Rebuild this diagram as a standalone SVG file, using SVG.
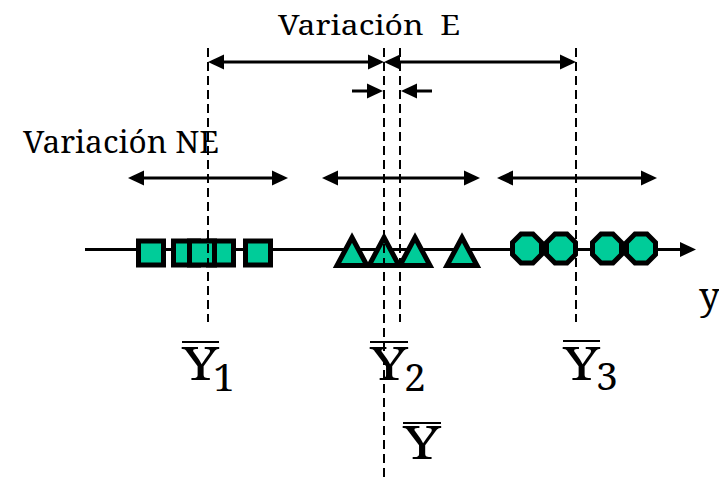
<svg xmlns="http://www.w3.org/2000/svg" width="719" height="478" viewBox="0 0 719 478">
<style>
text{font-family:"Noto Serif","DejaVu Serif","Liberation Serif",serif;fill:#000}
.ln{stroke:#000;stroke-width:3;fill:none}
.dash{stroke:#000;stroke-width:2;stroke-dasharray:9 5;fill:none}
.ov{stroke:#000;stroke-width:2}
.sq,.tri,.oct{fill:#00CC99;stroke:#000;stroke-width:5;stroke-linejoin:miter}
.big{font-size:46px}
.sub{font-size:39px}
</style>
<defs>
<marker id="ah" markerUnits="userSpaceOnUse" markerWidth="16" markerHeight="16" viewBox="0 0 16 16" refX="12" refY="8" orient="auto-start-reverse">
<path d="M0,0.5 L16,8 L0,15.5 Z" fill="#000"/>
</marker>
<polygon id="tr" points="0,-12.5 15,15.5 -15,15.5"/>
<polygon id="oc" points="-6,-14.5 6,-14.5 14.5,-6 14.5,6 6,14.5 -6,14.5 -14.5,6 -14.5,-6"/>
</defs>
<rect width="719" height="478" fill="#fff"/>

<g id="axis">
<line class="ln" x1="85" y1="249.5" x2="692" y2="249.5" marker-end="url(#ah)"/>
</g>

<g id="group1-squares">
<rect class="sq" x="138.5" y="241" width="25" height="24"/>
<rect class="sq" x="173.5" y="241" width="25" height="24"/>
<rect class="sq" x="208.5" y="241" width="25" height="24"/>
<rect class="sq" x="189.5" y="241" width="25" height="24"/>
<rect class="sq" x="245.5" y="241" width="25" height="24"/>
</g>

<g id="group2-triangles" class="tri">
<use href="#tr" x="352" y="250"/>
<use href="#tr" x="384" y="250"/>
<use href="#tr" x="415" y="250"/>
<use href="#tr" x="462" y="250"/>
</g>

<g id="group3-octagons" class="oct">
<use href="#oc" x="527" y="248.5"/>
<use href="#oc" x="561" y="248.5"/>
<use href="#oc" x="607" y="248.5"/>
<use href="#oc" x="641" y="248.5"/>
</g>

<g id="connectors">
<line class="dash" x1="208" y1="48" x2="208" y2="322"/>
<line class="dash" x1="384" y1="48" x2="384" y2="478"/>
<line class="dash" x1="400" y1="48" x2="400" y2="322"/>
<line class="dash" x1="576" y1="48" x2="576" y2="322"/>
<line class="ln" x1="212" y1="62" x2="380" y2="62" marker-start="url(#ah)" marker-end="url(#ah)"/>
<line class="ln" x1="388" y1="62" x2="572" y2="62" marker-start="url(#ah)" marker-end="url(#ah)"/>
<line class="ln" x1="352" y1="91" x2="379" y2="91" marker-end="url(#ah)"/>
<line class="ln" x1="432" y1="91" x2="405" y2="91" marker-end="url(#ah)"/>
<line class="ln" x1="132" y1="178" x2="284" y2="178" marker-start="url(#ah)" marker-end="url(#ah)"/>
<line class="ln" x1="326" y1="178" x2="476" y2="178" marker-start="url(#ah)" marker-end="url(#ah)"/>
<line class="ln" x1="501" y1="178" x2="653" y2="178" marker-start="url(#ah)" marker-end="url(#ah)"/>
</g>

<g id="label-variacion-e">
<text x="278" y="35" style="font-size:28px;white-space:pre" textLength="182" lengthAdjust="spacingAndGlyphs">Variación  E</text>
</g>
<g id="label-variacion-ne">
<text x="23" y="153" style="font-size:31px" textLength="196" lengthAdjust="spacingAndGlyphs">Variación NE</text>
</g>

<g id="label-y1">
<line class="ov" x1="182" y1="342" x2="219" y2="342"/>
<text class="big" x="182" y="380" textLength="37" lengthAdjust="spacingAndGlyphs">Y</text>
<text class="sub" x="213" y="391">1</text>
</g>
<g id="label-y2">
<line class="ov" x1="370" y1="342" x2="408" y2="342"/>
<text class="big" x="370" y="380" textLength="38" lengthAdjust="spacingAndGlyphs">Y</text>
<text class="sub" x="404" y="391">2</text>
</g>
<g id="label-y3">
<line class="ov" x1="563" y1="341" x2="600" y2="341"/>
<text class="big" x="563" y="380" textLength="37" lengthAdjust="spacingAndGlyphs">Y</text>
<text class="sub" x="596" y="390">3</text>
</g>
<g id="label-ymean">
<line class="ov" x1="403" y1="423" x2="441" y2="423"/>
<text class="big" x="403" y="459" textLength="38" lengthAdjust="spacingAndGlyphs">Y</text>
</g>
<g id="label-axis-y">
<text x="699" y="309" style="font-size:37px">y</text>
</g>
</svg>
